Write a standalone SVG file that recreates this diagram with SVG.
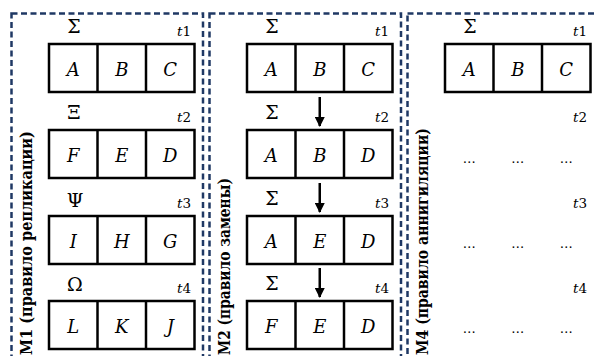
<svg xmlns="http://www.w3.org/2000/svg" width="595" height="356" viewBox="0 0 595 356">
<defs>
<style>
.panel{fill:none;stroke:#1f3864;stroke-width:2.5;stroke-dasharray:6 3.5}
.box{fill:#fff;stroke:#000;stroke-width:2.5}
.cell{font-style:italic;font-size:18px;text-anchor:middle}
.greek{font-size:19px;text-anchor:middle}
.t{font-size:13.5px;text-anchor:end}
.title{font-weight:bold;font-size:16.5px}
.dots{font-size:13px;text-anchor:middle}
.arr{stroke:#000;stroke-width:2.5;fill:none}
</style>
<marker id="ah" viewBox="0 0 10 10" refX="9" refY="5" markerWidth="4" markerHeight="4" markerUnits="strokeWidth" orient="auto">
<path d="M0,0 L10,5 L0,10 Z" fill="#000"/>
</marker>
<g id="row">
<rect class="box" x="49" y="0" width="145.5" height="48"/>
<line x1="97.5" y1="0" x2="97.5" y2="48" stroke="#000" stroke-width="2.5"/>
<line x1="146" y1="0" x2="146" y2="48" stroke="#000" stroke-width="2.5"/>
</g>
</defs>
<rect width="595" height="356" fill="#fff"/>

<g font-family="DejaVu Serif, serif" fill="#000">
<g id="panel1">
<rect class="panel" x="11.5" y="13.5" width="191.5" height="400"/>
<text class="title" transform="translate(32,355) rotate(-90)" textLength="224" lengthAdjust="spacingAndGlyphs">M1 (правило репликации)</text>
<g id="p1r1">
<use href="#row" y="44"/>
<text class="greek" x="74" y="33">Σ</text>
<text class="t" x="191" y="36"><tspan font-style="italic">t</tspan>1</text>
<text class="cell" x="73.25" y="76">A</text><text class="cell" x="121.75" y="76">B</text><text class="cell" x="170.25" y="76">C</text>
</g>
<g id="p1r2">
<use href="#row" y="130"/>
<text class="greek" x="74" y="119">Ξ</text>
<text class="t" x="191" y="122"><tspan font-style="italic">t</tspan>2</text>
<text class="cell" x="73.25" y="162">F</text><text class="cell" x="121.75" y="162">E</text><text class="cell" x="170.25" y="162">D</text>
</g>
<g id="p1r3">
<use href="#row" y="216"/>
<text class="greek" x="75" y="207">Ψ</text>
<text class="t" x="191" y="208"><tspan font-style="italic">t</tspan>3</text>
<text class="cell" x="73.25" y="248">I</text><text class="cell" x="121.75" y="248">H</text><text class="cell" x="170.25" y="248">G</text>
</g>
<g id="p1r4">
<use href="#row" y="301"/>
<text class="greek" x="75" y="291">Ω</text>
<text class="t" x="191" y="293"><tspan font-style="italic">t</tspan>4</text>
<text class="cell" x="73.25" y="333">L</text><text class="cell" x="121.75" y="333">K</text><text class="cell" x="170.25" y="333">J</text>
</g>
</g>

<g id="panel2" transform="translate(198,0)">
<rect class="panel" x="11.5" y="13.5" width="191.5" height="400"/>
<text class="title" transform="translate(32,355) rotate(-90)" textLength="177" lengthAdjust="spacingAndGlyphs">M2 (правило замены)</text>
<g id="p2r1">
<use href="#row" y="44"/>
<text class="greek" x="74" y="33">Σ</text>
<text class="t" x="191" y="36"><tspan font-style="italic">t</tspan>1</text>
<text class="cell" x="73.25" y="76">A</text><text class="cell" x="121.75" y="76">B</text><text class="cell" x="170.25" y="76">C</text>
</g>
<g id="p2r2">
<use href="#row" y="130"/>
<text class="greek" x="74" y="119">Σ</text>
<text class="t" x="191" y="122"><tspan font-style="italic">t</tspan>2</text>
<text class="cell" x="73.25" y="162">A</text><text class="cell" x="121.75" y="162">B</text><text class="cell" x="170.25" y="162">D</text>
</g>
<g id="p2r3">
<use href="#row" y="216"/>
<text class="greek" x="74" y="205">Σ</text>
<text class="t" x="191" y="208"><tspan font-style="italic">t</tspan>3</text>
<text class="cell" x="73.25" y="248">A</text><text class="cell" x="121.75" y="248">E</text><text class="cell" x="170.25" y="248">D</text>
</g>
<g id="p2r4">
<use href="#row" y="301"/>
<text class="greek" x="74" y="290">Σ</text>
<text class="t" x="191" y="293"><tspan font-style="italic">t</tspan>4</text>
<text class="cell" x="73.25" y="333">F</text><text class="cell" x="121.75" y="333">E</text><text class="cell" x="170.25" y="333">D</text>
</g>
<g id="connectors">
<line class="arr" x1="121.75" y1="97" x2="121.75" y2="126" marker-end="url(#ah)"/>
<line class="arr" x1="121.75" y1="183" x2="121.75" y2="212" marker-end="url(#ah)"/>
<line class="arr" x1="121.75" y1="268" x2="121.75" y2="297" marker-end="url(#ah)"/>
</g>
</g>

<g id="panel3" transform="translate(396,0)">
<rect class="panel" x="11.5" y="13.5" width="250" height="400"/>
<text class="title" transform="translate(32,355) rotate(-90)" textLength="227" lengthAdjust="spacingAndGlyphs">M4 (правило аннигиляции)</text>
<g id="p3r1">
<use href="#row" y="44"/>
<text class="greek" x="74" y="33">Σ</text>
<text class="t" x="191" y="36"><tspan font-style="italic">t</tspan>1</text>
<text class="cell" x="73.25" y="76">A</text><text class="cell" x="121.75" y="76">B</text><text class="cell" x="170.25" y="76">C</text>
</g>
<g id="p3r2">
<text class="t" x="191" y="122"><tspan font-style="italic">t</tspan>2</text>
<text class="dots" x="73.25" y="163">…</text><text class="dots" x="121.75" y="163">…</text><text class="dots" x="170.25" y="163">…</text>
</g>
<g id="p3r3">
<text class="t" x="191" y="208"><tspan font-style="italic">t</tspan>3</text>
<text class="dots" x="73.25" y="248">…</text><text class="dots" x="121.75" y="248">…</text><text class="dots" x="170.25" y="248">…</text>
</g>
<g id="p3r4">
<text class="t" x="191" y="293"><tspan font-style="italic">t</tspan>4</text>
<text class="dots" x="73.25" y="333">…</text><text class="dots" x="121.75" y="333">…</text><text class="dots" x="170.25" y="333">…</text>
</g>
</g>
</g>
</svg>
